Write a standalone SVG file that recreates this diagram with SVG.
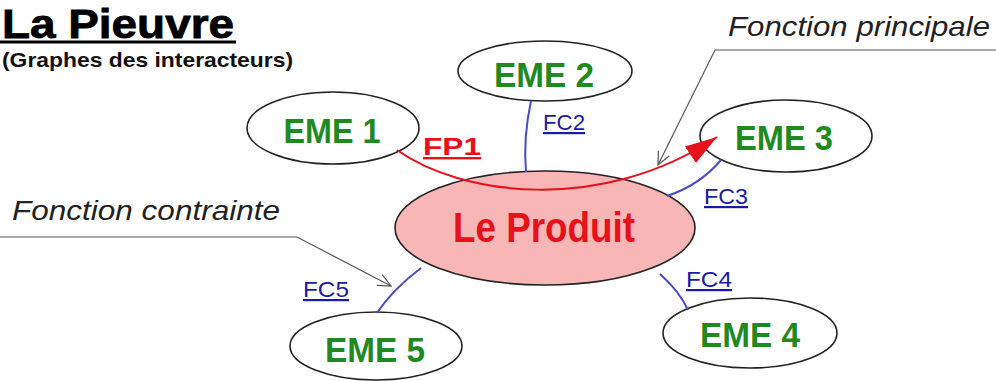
<svg xmlns="http://www.w3.org/2000/svg" width="996" height="381" viewBox="0 0 996 381">
<style>
.eme{fill:#fff;stroke:#222;stroke-width:1.6}
.emet{font-family:"Liberation Sans",Arial,sans-serif;font-weight:bold;font-size:35px;fill:#1f8a1f;text-anchor:middle}
.fc{fill:none;stroke:#4a4acb;stroke-width:2}
.fcl{font-family:"Liberation Sans",Arial,sans-serif;font-size:22px;fill:#1a1aa8;text-decoration:underline}
.call{fill:none;stroke:#555;stroke-width:1.2}
.callt{font-family:"Liberation Sans",Arial,sans-serif;font-style:italic;font-size:28px;fill:#222}
</style>
<defs>
<marker id="open" markerWidth="16" markerHeight="14" refX="14" refY="7" orient="auto" markerUnits="userSpaceOnUse">
<path d="M1,1 L14,7 L1,13" fill="none" stroke="#555" stroke-width="1.2"/>
</marker>
<marker id="red" markerWidth="34" markerHeight="22" refX="32" refY="10" orient="auto" markerUnits="userSpaceOnUse">
<path d="M0,0 L32,10 L0,20 z" fill="#e8101a"/>
</marker>
</defs>
<g id="title">
<text x="2" y="38" textLength="232" lengthAdjust="spacingAndGlyphs" font-family="'Liberation Sans',Arial,sans-serif" font-weight="bold" font-size="41" fill="#000" stroke="#000" stroke-width="0.8">La Pieuvre</text>
<line x1="0" y1="42" x2="236" y2="42" stroke="#000" stroke-width="3"/>
<text x="2" y="67" textLength="291" lengthAdjust="spacingAndGlyphs" font-family="'Liberation Sans',Arial,sans-serif" font-weight="bold" font-size="21" fill="#111">(Graphes des interacteurs)</text>
</g>
<g id="produit">
<ellipse cx="545" cy="228" rx="150" ry="57" fill="#f8b6b6" stroke="#222" stroke-width="1.6"/>
<text x="453" y="242" textLength="182" lengthAdjust="spacingAndGlyphs" font-family="'Liberation Sans',Arial,sans-serif" font-weight="bold" font-size="42" fill="#e8101a">Le Produit</text>
</g>
<g id="eme1"><ellipse class="eme" cx="333" cy="128" rx="86" ry="36"/><text class="emet" x="332" y="143" textLength="97" lengthAdjust="spacingAndGlyphs">EME 1</text></g>
<g id="eme2"><ellipse class="eme" cx="545" cy="71" rx="87" ry="30"/><text class="emet" x="544" y="87" textLength="100" lengthAdjust="spacingAndGlyphs">EME 2</text></g>
<g id="eme3"><ellipse class="eme" cx="786" cy="136" rx="86" ry="36"/><text class="emet" x="784" y="150" textLength="98" lengthAdjust="spacingAndGlyphs">EME 3</text></g>
<g id="eme4"><ellipse class="eme" cx="750" cy="333" rx="87" ry="35"/><text class="emet" x="750" y="347" textLength="100" lengthAdjust="spacingAndGlyphs">EME 4</text></g>
<g id="eme5"><ellipse class="eme" cx="376" cy="346" rx="86" ry="34"/><text class="emet" x="375" y="362" textLength="100" lengthAdjust="spacingAndGlyphs">EME 5</text></g>
<g id="connectors">
<path class="fc" d="M531,101 Q523,138 526,172"/>
<path class="fc" d="M721,160 Q700,185 667,196"/>
<path class="fc" d="M660,274 Q680,292 688,310"/>
<path class="fc" d="M421,268 Q392,290 377,313"/>
<path d="M397,150 C460,195 600,215 717,137" fill="none" stroke="#e8101a" stroke-width="2" marker-end="url(#red)"/>
<path class="call" d="M996,50 L715,50 L658,165" marker-end="url(#open)"/>
<path class="call" d="M0,237 L297,237 L391,286" marker-end="url(#open)"/>
</g>
<g id="labels">
<text class="fcl" x="543" y="130" textLength="42" lengthAdjust="spacingAndGlyphs">FC2</text>
<text class="fcl" x="704" y="204" textLength="44" lengthAdjust="spacingAndGlyphs">FC3</text>
<text class="fcl" x="686" y="287" textLength="46" lengthAdjust="spacingAndGlyphs">FC4</text>
<text class="fcl" x="303" y="297" textLength="46" lengthAdjust="spacingAndGlyphs">FC5</text>
<text x="423" y="155" textLength="58" lengthAdjust="spacingAndGlyphs" font-family="'Liberation Sans',Arial,sans-serif" font-weight="bold" font-size="24" fill="#e8101a" text-decoration="underline">FP1</text>
<text class="callt" x="728" y="36" textLength="262" lengthAdjust="spacingAndGlyphs">Fonction principale</text>
<text class="callt" x="12" y="220" textLength="268" lengthAdjust="spacingAndGlyphs">Fonction contrainte</text>
</g>
</svg>
